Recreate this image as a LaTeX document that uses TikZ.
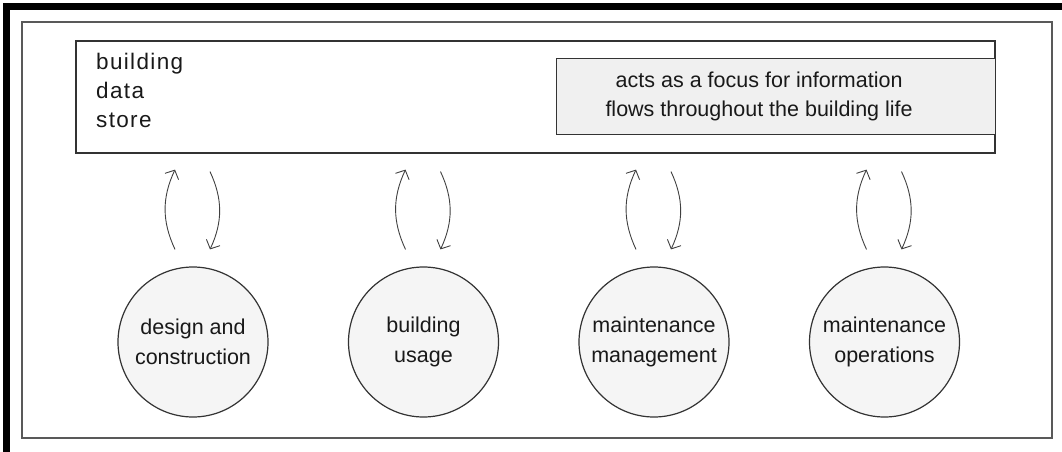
\documentclass[tikz,border=0pt]{standalone}
\usepackage{fontspec}
\setmainfont{Liberation Sans}
\newfontfamily\storefont{Liberation Sans}[LetterSpace=6]
\usetikzlibrary{arrows.meta,calc}

\tikzset{
stage/.style={circle,draw=black!80,line width=1.2pt,fill=black!4,
  minimum size=150pt,inner sep=0pt,align=center,text=black!90,
  font=\fontsize{21.5}{30}\selectfont},
flow/.style={draw=black!75,line width=0.9pt,-{Straight Barb[length=7pt,width=15pt]}}
}

\begin{document}
\begin{tikzpicture}[x=1pt,y=-1pt]
\useasboundingbox (0,0) rectangle (1062,452);
\draw[line width=7pt] (6.5,452) -- (6.5,7) -- (1062,7); % page edge
\draw[black!65,line width=1.3pt] (22,22) rectangle (1052,438);
\node[draw=black!80,line width=1.6pt,anchor=north west,inner sep=0pt,
  minimum width=919pt,minimum height=112pt] (store) at (75,40) {};
\node[anchor=north west,align=left,inner sep=0pt,text=black!90,
  font=\storefont\fontsize{22.5}{29}\selectfont] (storename) at (96,53) {building\\data\\store};
\node[draw=black!80,line width=1.2pt,fill=black!6,anchor=north west,inner sep=0pt,
  minimum width=439pt,minimum height=76pt] (focus) at (556,58) {};
\node[align=center,text=black!90,font=\fontsize{21.5}{29}\selectfont]
  (focustext) at ($(focus.center)+(-17,0)$) {acts as a focus for information\\flows throughout the building life};
\foreach \i / \x / \txt in
{1/193/{design and\\construction}, 2/423.5/{building\\usage},
3/654/{maintenance\\management}, 4/884.5/{maintenance\\operations}}
{
\node[stage] (s\i) at (\x,342) {\txt};
\draw[flow] ($(s\i.north)+(-18,-17)$) to[bend left=25] ($(s\i.north |- store.south)+(-18,16)$); % up
\draw[flow] ($(s\i.north |- store.south)+(17,18)$) to[bend left=25] ($(s\i.north)+(17,-17)$); % down
}
\end{tikzpicture}
\end{document}
